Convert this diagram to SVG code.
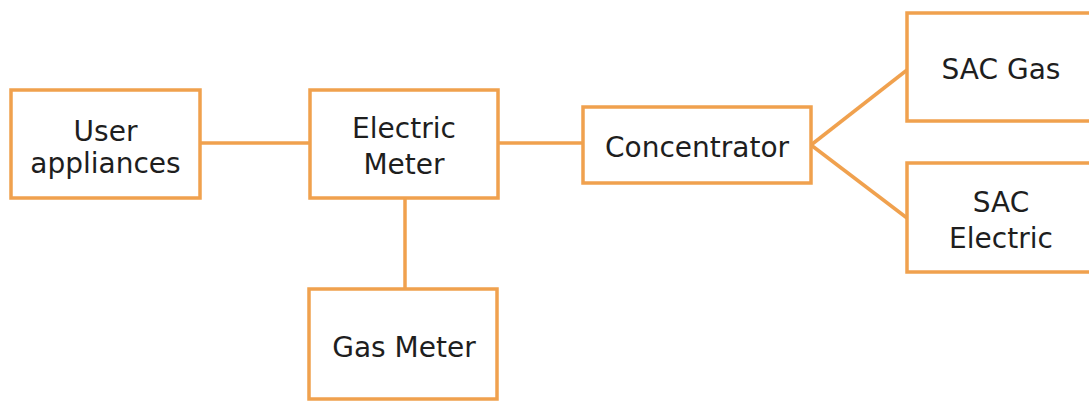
<svg xmlns="http://www.w3.org/2000/svg" width="1089" height="401" viewBox="0 0 1089 401">
<style>
.box{fill:#fff;stroke:#F0A14E;stroke-width:3.5}
.ln{fill:none;stroke:#F0A14E;stroke-width:3.5}
text{font-family:"DejaVu Sans",Verdana,sans-serif;font-size:28px;fill:#1e1e1e;text-anchor:middle}
</style>
<rect width="1089" height="401" fill="#fff"/>
<g id="connectors">
<line class="ln" x1="200" y1="143" x2="310" y2="143"/>
<line class="ln" x1="498" y1="143" x2="583" y2="143"/>
<line class="ln" x1="405" y1="198" x2="405" y2="289"/>
<line class="ln" x1="811" y1="145" x2="907" y2="70"/>
<line class="ln" x1="811" y1="145" x2="907" y2="218"/>
</g>
<g id="user">
<rect class="box" x="11" y="90" width="189" height="108"/>
<text x="105.5" y="141">User</text>
<text x="105.5" y="173">appliances</text>
</g>
<g id="emeter">
<rect class="box" x="310" y="90" width="188" height="108"/>
<text x="404" y="138">Electric</text>
<text x="404" y="174">Meter</text>
</g>
<g id="gmeter">
<rect class="box" x="309" y="289" width="188" height="110"/>
<text x="404" y="357">Gas Meter</text>
</g>
<g id="conc">
<rect class="box" x="583" y="107" width="228" height="76"/>
<text x="697" y="157">Concentrator</text>
</g>
<g id="sacgas">
<rect class="box" x="907" y="13" width="190" height="108"/>
<text x="1001" y="79">SAC Gas</text>
</g>
<g id="sacel">
<rect class="box" x="907" y="163" width="190" height="109"/>
<text x="1001" y="212">SAC</text>
<text x="1001" y="248">Electric</text>
</g>
</svg>
